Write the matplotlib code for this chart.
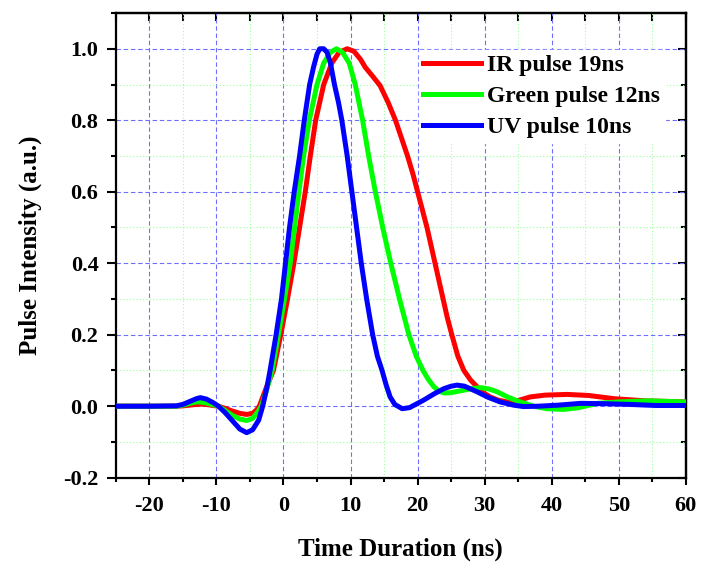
import numpy as np
import matplotlib
matplotlib.use('Agg')
import matplotlib.pyplot as plt
from matplotlib.ticker import MultipleLocator

plt.rcParams['font.family'] = 'Liberation Serif'
plt.rcParams['font.weight'] = 'bold'
plt.rcParams['axes.unicode_minus'] = False

# IR pulse 19ns
t_ir = [-25, -20, -16, -15, -14, -13, -12.5, -11.5, -10.5, -9.7,
        -8.7, -7.7, -6.5, -5.5, -4.6, -4.0, -3.6, -2.6, -1.5, -0.4,
        0.6, 1.55, 2.4, 3.25, 4.0, 4.8, 6.0, 7.2, 8.3, 9.5,
        10.5, 11.5, 12.2, 13.3, 14.4, 15.6, 16.7, 17.6, 18.5, 19.3,
        20.0, 20.7, 21.4, 22.0, 22.6, 23.2, 23.8, 24.4, 25.1, 26.0,
        26.9, 27.9, 28.9, 29.8, 30.8, 32.0, 33.3, 35.0, 36.8, 39.0,
        42.3, 45.5, 49.3, 54.0, 60.0]
i_ir = [0, 0, 0.0, 0.001, 0.003, 0.005, 0.006, 0.005, 0.002, 0.0,
        -0.006, -0.013, -0.02, -0.023, -0.02, -0.01, 0.0, 0.05, 0.1, 0.2,
        0.3, 0.4, 0.5, 0.6, 0.7, 0.8, 0.9, 0.96, 0.99, 1.0,
        0.993, 0.97, 0.948, 0.923, 0.897, 0.85, 0.8, 0.75, 0.7, 0.65,
        0.6, 0.55, 0.5, 0.45, 0.4, 0.35, 0.3, 0.25, 0.2, 0.14,
        0.1, 0.073, 0.054, 0.038, 0.026, 0.017, 0.012, 0.016, 0.026, 0.031,
        0.033, 0.03, 0.021, 0.015, 0.012]

# Green pulse 12ns
t_green = [-25, -20, -16, -15, -14, -13, -12.5, -11.5, -10.5, -9.7,
           -8.7, -7.7, -6.5, -5.5, -4.6, -3.8, -3.3, -2.6, -1.7, -0.75,
           0.15, 1.0, 1.65, 2.3, 3.0, 3.85, 5.0, 6.0, 7.0, 7.9,
           8.8, 9.8, 10.7, 11.8, 12.7, 13.7, 14.8, 16.0, 17.3, 18.7,
           19.8, 20.8, 21.6, 22.4, 23.2, 24.0, 25.0, 26.4, 28.0, 29.4,
           30.7, 31.9, 33.5, 35.3, 37.3, 39.3, 41.8, 44.0, 46.8, 50.0,
           54.2, 60.0]
i_green = [0, 0, 0.0, 0.003, 0.008, 0.012, 0.012, 0.009, 0.004, 0.0,
           -0.012, -0.025, -0.036, -0.04, -0.034, -0.015, 0.0, 0.04, 0.1, 0.2,
           0.3, 0.4, 0.5, 0.6, 0.7, 0.8, 0.9, 0.96, 0.99, 1.0,
           0.99, 0.96, 0.9, 0.8, 0.7, 0.6, 0.5, 0.4, 0.3, 0.2,
           0.14, 0.1, 0.075, 0.055, 0.042, 0.037, 0.038, 0.043, 0.049, 0.052,
           0.048, 0.04, 0.025, 0.012, 0.0, -0.007, -0.009, -0.004, 0.008, 0.012,
           0.015, 0.012]

# UV pulse 10ns
t_uv = [-25, -20, -16, -15, -14, -13, -12.4, -11.5, -10.5, -9.7,
        -8.7, -7.7, -6.5, -5.5, -4.6, -3.7, -3.1, -2.5, -2.0, -1.1,
        -0.3, 0.3, 0.9, 1.6, 2.4, 3.1, 3.9, 4.5, 5.0, 5.4,
        6.0, 6.5, 7.0, 7.6, 8.2, 8.7, 9.5, 10.2, 10.9, 11.6,
        12.4, 13.3, 14.0, 14.7, 15.3, 15.9, 16.6, 17.7, 18.8, 20.0,
        20.9, 22.5, 23.9, 25.0, 25.9, 27.0, 28.9, 30.5, 32.3, 34.3,
        35.8, 38.0, 41.0, 44.3, 48.0, 51.7, 55.5, 60.0]
i_uv = [0, 0, 0.001, 0.005, 0.013, 0.021, 0.024, 0.02, 0.01, 0.0,
        -0.018, -0.039, -0.064, -0.074, -0.066, -0.039, 0.0, 0.05, 0.1, 0.2,
        0.3, 0.4, 0.5, 0.6, 0.7, 0.8, 0.9, 0.95, 0.985, 1.0,
        1.0, 0.99, 0.96, 0.9, 0.85, 0.8, 0.7, 0.6, 0.5, 0.4,
        0.3, 0.2, 0.14, 0.1, 0.06, 0.026, 0.005, -0.007, -0.004, 0.008,
        0.017, 0.035, 0.049, 0.056, 0.059, 0.056, 0.04, 0.025, 0.012, 0.003,
        -0.001, 0.0, 0.003, 0.008, 0.007, 0.005, 0.002, 0.002]

labels = ['IR pulse 19ns', 'Green pulse 12ns', 'UV pulse 10ns']
colors = ['#ff0000', '#00ff00', '#0000ff']

fig = plt.figure(figsize=(7.02, 5.71), dpi=100)
ax = fig.add_axes([0.165, 0.1634, 0.812, 0.8138])

ax.plot(t_ir, i_ir, color=colors[0], lw=3.6, label=labels[0], zorder=3)
ax.plot(t_green, i_green, color=colors[1], lw=3.6, label=labels[1], zorder=3)
ax.plot(t_uv, i_uv, color=colors[2], lw=3.6, label=labels[2], zorder=4)

ax.set_xlim(-25, 60)
ax.set_ylim(-0.2, 1.1)
ax.xaxis.set_major_locator(MultipleLocator(10))
ax.xaxis.set_minor_locator(MultipleLocator(5))
ax.yaxis.set_minor_locator(MultipleLocator(0.1))
ax.set_yticks(np.arange(-0.2, 1.01, 0.2))

ax.grid(which='major', color='#6f6fff', ls=(0, (4, 2.5)), lw=0.8)
ax.grid(which='minor', color='#9cff9c', ls=(0, (1, 2)), lw=0.8)
ax.set_axisbelow(True)

for s in ax.spines.values():
    s.set_linewidth(1.6)

ax.tick_params(axis='both', which='major', labelsize=16, width=1.5, direction='out')
ax.tick_params(axis='y', which='major', length=6.5, pad=6)
ax.tick_params(axis='y', which='minor', length=3.6, width=1.5, direction='out')
ax.tick_params(axis='x', which='major', length=5, pad=8)
ax.tick_params(axis='x', which='minor', length=3, width=1.5, direction='out')
ax.set_yticklabels(['%.1f' % v for v in np.arange(-0.2, 1.01, 0.2)])

top = ax.secondary_xaxis('top')
top.xaxis.set_major_locator(MultipleLocator(10))
top.xaxis.set_minor_locator(MultipleLocator(5))
top.tick_params(which='both', direction='in', labeltop=False, width=1.5)
top.tick_params(which='major', length=5.5)
top.tick_params(which='minor', length=5.5)
top.spines['top'].set_linewidth(1.6)

right = ax.secondary_yaxis('right')
right.set_yticks(np.arange(-0.2, 1.01, 0.2))
right.yaxis.set_minor_locator(MultipleLocator(0.1))
right.tick_params(which='both', direction='in', labelright=False, width=1.5)
right.tick_params(which='major', length=5.5)
right.tick_params(which='minor', length=3.5)
right.spines['right'].set_linewidth(1.6)

ax.set_xlabel('Time Duration (ns)', fontsize=18, fontweight='bold', labelpad=16)
ax.set_ylabel('Pulse Intensity (a.u.)', fontsize=18, fontweight='bold', labelpad=15)

leg = ax.legend(loc='upper right', bbox_to_anchor=(0.963, 0.92), fontsize=17,
                frameon=True, fancybox=False, framealpha=1, facecolor='white',
                edgecolor='white', borderaxespad=0, borderpad=0.2,
                handlelength=2.45, handletextpad=0.25, labelspacing=0.4)
for t in leg.get_texts():
    t.set_fontweight('bold')

fig.savefig('out.png', dpi=100)
